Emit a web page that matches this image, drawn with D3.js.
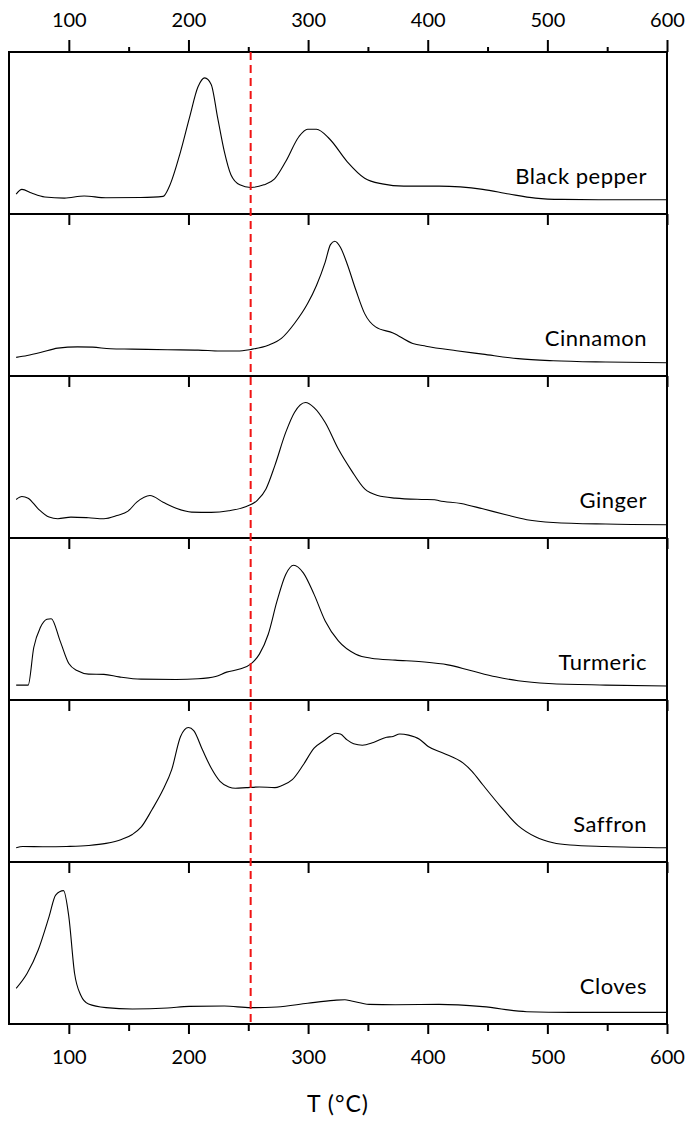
<!DOCTYPE html>
<html>
<head>
<meta charset="utf-8">
<script src="https://cdn.jsdelivr.net/npm/d3@7"></script>
<style>
  body { margin: 0; background: #fff; }
  text { font-family: Lato, "Open Sans", sans-serif; fill: #000; }
</style>
</head>
<body>
<svg id="chart"></svg>
<script>
// Values, [T (°C), signal as % of panel height]
const spices = ['Black pepper', 'Cinnamon', 'Ginger', 'Turmeric', 'Saffron', 'Cloves'];
const blackPepper = [[56,12.3],[60.8,15.2],[68.9,12.9],[79.9,10.5],[96.3,9.8],[112.8,11.1],[131,10],[160,10.2],
  [178.8,10.9],[184,17],[193.4,38.5],[200.7,59],[208,78.5],[213.6,84],[219,80],[224.5,59],[230,38.5],[235.5,24.2],
  [242.9,18],[252,16.4],[263,18],[272,21.7],[281.3,32.4],[292.3,47.7],[299.6,52.3],[307,52.3],[318,46.3],
  [332.6,32.4],[347.3,22.1],[362,18.6],[380,17.2],[409.5,17.2],[446,15.2],[468,12.3],[490,9.8],[512,9],
  [556,8.8],[600,8.8]];
const cinnamon = [[56,11.5],[65.2,12.7],[76.2,14.5],[90.8,17.2],[107.3,18],[120,17.8],[134.8,16.8],[153,16.6],
  [182.4,16.2],[208,16],[226.4,15.4],[241,15.4],[252,16.4],[266.7,19],[277.7,23.2],[288.6,32.4],[299.6,44.7],
  [307,55.9],[314.3,70.3],[318.7,81.1],[322.3,83.2],[327,79.5],[332.6,69.3],[340,52.9],[347.3,38.5],[356.4,30.3],
  [371,26.6],[387.5,20.1],[398.5,18.4],[424,15.6],[446,13.5],[475.5,10.7],[504.8,9.4],[548.7,8.6],[600,8.2]];
const ginger = [[56,23.8],[60.8,25.6],[66,24.6],[74.4,18],[83.5,12.9],[90.8,11.9],[101.8,12.9],[116.5,12.5],
  [129.3,11.9],[140.3,13.9],[149.5,16.6],[156.8,22.1],[167.8,26.2],[178.8,22.1],[189.7,18.4],[202.6,16],
  [219,15.8],[233.7,16.8],[248.4,19.5],[257.5,23.2],[264.8,30.3],[272.2,44.7],[281.3,65.2],[288.6,77.5],
  [297.8,83.6],[305,80.5],[314.3,71.3],[325.3,54.9],[336.3,41.6],[347.3,30.3],[358.2,26.2],[372.9,24.6],
  [394.9,23.8],[405.9,23.6],[409.5,23],[427.8,21.3],[446,18],[464.5,14.5],[482.8,11.3],[504.8,9.6],
  [548.7,8.6],[600,8.2]];
const turmeric = [[56,9.2],[66,9.2],[70.7,32.4],[76.2,44.7],[81.7,49.8],[85.3,50.2],[92.7,36.5],[100,22.5],
  [107.3,18],[116.5,16],[129.3,15.8],[142,14.3],[160.4,12.9],[189.7,12.7],[208,13.1],[222.7,14.5],[231.9,17.2],
  [242.9,19.1],[252,22.1],[259.3,28.3],[266.7,40.6],[274,61],[281.3,77.5],[287.9,83.2],[296,78.5],[305,65.2],
  [314.3,48.8],[325.3,36.5],[339.9,28.3],[352.7,25.8],[372.9,24.6],[394.9,23.6],[416.8,21.7],[435,18.4],
  [457,14.3],[475.5,11.9],[501,10.2],[548.7,9.2],[600,8.6]];
const saffron = [[56,8.8],[61.5,9.6],[79.9,9.4],[98.2,9.6],[116.5,10.2],[131.1,11.5],[144,13.9],[153.1,17],
  [160.4,21.5],[169.6,32.4],[178.8,44.7],[186,57],[193.4,77.5],[200,83],[204.4,81.1],[211.7,69.3],[219,58],
  [226.4,49.8],[233.7,46.3],[239.2,45.5],[248.4,45.9],[259.3,46.3],[272.2,45.9],[277.7,47.1],[286.8,50.8],
  [296,60],[305,70.3],[313.4,75],[318.7,77.9],[322.7,79.5],[327,79],[332.6,75.4],[338.1,73],[345.4,72.1],
  [354.6,73.8],[365.6,77],[371,77.5],[376.6,79],[384,78.3],[393.1,75.8],[400.4,71.3],[413.2,67.2],[429.7,61],
  [437,56],[446,47.7],[460.8,34.4],[475.5,22.5],[490,15.6],[504.8,11.9],[519,10.5],[548.7,9.6],[600,8.8]];
const cloves = [[56,22],[65.2,31.3],[74.4,45.7],[83.5,66.3],[89,79.6],[95.6,82.3],[100,66.3],[104.8,31.3],
  [109.9,17.9],[116.5,12.3],[131.1,10.1],[153.1,9.3],[182.4,9.9],[200.7,10.9],[230,11.1],[252,10.1],[274,10.5],
  [299.6,12.8],[321.6,14.6],[330.8,15],[336.3,14.2],[351,12.1],[372.9,11.9],[409.5,12.1],[446,10.7],
  [482.8,7.6],[519.4,7.2],[600,7.2]];
const series = [blackPepper, cinnamon, ginger, turmeric, saffron, cloves];
const majorTicks = [100, 200, 300, 400, 500, 600];
const minorTicks = [150, 250, 350, 450, 550];
const markerT = 252;

const width = 688, height = 1121;
const plotLeft = 9, plotRight = 667, plotTop = 52, panelH = 162;
const plotBottom = plotTop + panelH * spices.length;

const svg = d3.select('#chart')
  .attr('width', width)
  .attr('height', height);

const x = d3.scaleLinear().domain([50, 600]).range([plotLeft, plotRight]);

// Panels
spices.forEach((name, i) => {
  const y0 = plotTop + i * panelH;
  const y = d3.scaleLinear().domain([0, 100]).range([y0 + panelH, y0]);
  const line = d3.line()
    .x(d => x(d[0]))
    .y(d => y(d[1]))
    .curve(d3.curveMonotoneX);
  svg.append('path')
    .datum(series[i])
    .attr('fill', 'none')
    .attr('stroke', '#000')
    .attr('stroke-width', 1.1)
    .attr('d', line);
  svg.append('text')
    .attr('x', 647)
    .attr('y', y0 + panelH - 30)
    .attr('text-anchor', 'end')
    .style('font-size', '22px')
    .style('letter-spacing', '0.5px')
    .text(name);
  // inner ticks along the top of each lower panel
  if (i > 0) {
    svg.append('g')
      .attr('transform', `translate(0,${y0})`)
      .call(d3.axisBottom(x).tickValues(majorTicks).tickSize(11).tickFormat(''))
      .call(g => g.select('.domain').remove())
      .call(g => g.selectAll('line').attr('stroke-width', 2));
  }
});

// Frames
spices.forEach((_, i) => {
  svg.append('rect')
    .attr('x', plotLeft)
    .attr('y', plotTop + i * panelH)
    .attr('width', plotRight - plotLeft)
    .attr('height', panelH)
    .attr('fill', 'none')
    .attr('stroke', '#000')
    .attr('stroke-width', 2);
});

// Top axis
svg.append('g')
  .attr('transform', `translate(0,${plotTop})`)
  .call(d3.axisTop(x).tickValues(majorTicks).tickSize(12).tickPadding(13))
  .call(g => g.select('.domain').remove())
  .call(g => g.selectAll('line').attr('stroke-width', 2))
  .call(g => g.selectAll('text').style('font-size', '20px'));
svg.append('g')
  .attr('transform', `translate(0,${plotTop})`)
  .call(d3.axisTop(x).tickValues(minorTicks).tickSize(5).tickFormat(''))
  .call(g => g.select('.domain').remove())
  .call(g => g.selectAll('line').attr('stroke-width', 2));

// Bottom axis
svg.append('g')
  .attr('transform', `translate(0,${plotBottom})`)
  .call(d3.axisBottom(x).tickValues(majorTicks).tickSize(10).tickPadding(16))
  .call(g => g.select('.domain').remove())
  .call(g => g.selectAll('line').attr('stroke-width', 2))
  .call(g => g.selectAll('text').style('font-size', '20px'));
svg.append('g')
  .attr('transform', `translate(0,${plotBottom})`)
  .call(d3.axisBottom(x).tickValues(minorTicks).tickSize(7).tickFormat(''))
  .call(g => g.select('.domain').remove())
  .call(g => g.selectAll('line').attr('stroke-width', 2));

svg.append('text')
  .attr('x', (plotLeft + plotRight) / 2)
  .attr('y', 1112)
  .attr('text-anchor', 'middle')
  .style('font-size', '23px')
  .style('letter-spacing', '1px')
  .text('T (°C)');

// Reference temperature
svg.append('line')
  .attr('x1', x(markerT))
  .attr('x2', x(markerT))
  .attr('y1', plotTop)
  .attr('y2', plotBottom)
  .attr('stroke', '#f01414')
  .attr('stroke-width', 2)
  .attr('stroke-dasharray', '8,5');
</script>
</body>
</html>
